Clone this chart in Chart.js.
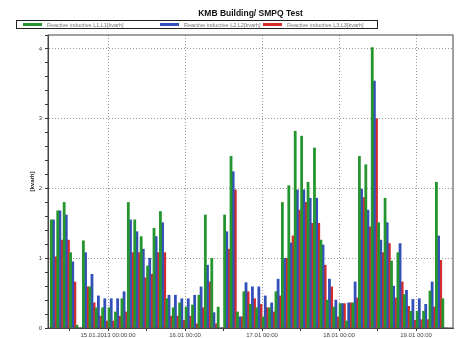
<!DOCTYPE html>
<html><head><meta charset="utf-8">
<script src="https://cdn.jsdelivr.net/npm/chart.js@4/dist/chart.umd.min.js"></script>
<style>
html,body{margin:0;padding:0;background:#fff;}
#wrap{position:relative;width:461px;height:338px;}
#title{position:absolute;left:48px;width:405px;top:8px;text-align:center;font:bold 8.5px "Liberation Sans",Arial,sans-serif;color:#111;line-height:10px;}
#legend{position:absolute;left:16px;top:20px;width:360px;height:7px;border:1px solid #222;display:flex;align-items:center;font:5.5px "Liberation Sans",Arial,sans-serif;color:#777;white-space:nowrap;overflow:hidden;}
.item{display:flex;align-items:center;flex:none;}
.sw{width:19px;height:3px;margin:0 5px 0 6px;flex:none;}
</style></head><body>
<div id="wrap"><canvas id="c" width="461" height="338"></canvas><div id="title"></div><div id="legend"></div></div>
<script>
const chartTitle = "KMB Building/ SMPQ Test";
const yAxisTitle = "[kvarh]";
const seriesNames = ["Reactive inductive L1,L1[kvarh]", "Reactive inductive L2,L2[kvarh]", "Reactive inductive L3,L3[kvarh]"];
const seriesColors = ["#25962f", "#3350b8", "#d42b2b"];
const intervalHours = 2;
const xTickLabels = ["15.01.2013 00:00:00", "16.01 00:00", "17.01 00:00", "18.01 00:00", "19.01 00:00"];
const yTickLabels = ["0", "1", "2", "3", "4"];

const times = [
  "14.01 06:00","14.01 08:00","14.01 10:00","14.01 12:00","14.01 14:00","14.01 16:00","14.01 18:00","14.01 20:00","14.01 22:00",
  "15.01 00:00","15.01 02:00","15.01 04:00","15.01 06:00","15.01 08:00","15.01 10:00","15.01 12:00","15.01 14:00","15.01 16:00","15.01 18:00","15.01 20:00","15.01 22:00",
  "16.01 00:00","16.01 02:00","16.01 04:00","16.01 06:00","16.01 08:00","16.01 10:00","16.01 12:00","16.01 14:00","16.01 16:00","16.01 18:00","16.01 20:00","16.01 22:00",
  "17.01 00:00","17.01 02:00","17.01 04:00","17.01 06:00","17.01 08:00","17.01 10:00","17.01 12:00","17.01 14:00","17.01 16:00","17.01 18:00","17.01 20:00","17.01 22:00",
  "18.01 00:00","18.01 02:00","18.01 04:00","18.01 06:00","18.01 08:00","18.01 10:00","18.01 12:00","18.01 14:00","18.01 16:00","18.01 18:00","18.01 20:00","18.01 22:00",
  "19.01 00:00","19.01 02:00","19.01 04:00","19.01 06:00","19.01 08:00"
];
const l1 = [1.55,1.68,1.80,1.08,0.04,1.25,0.59,0.29,0.29,
  0.29,0.23,0.42,1.80,1.55,1.31,0.89,1.43,1.67,0.42,0.29,0.36,
  0.30,0.33,0.47,1.62,1.00,0.30,1.62,2.46,0.23,0.52,0.34,0.29,
  0.16,0.29,0.52,1.80,2.04,2.82,2.75,2.09,2.58,1.26,0.40,0.30,
  0.35,0.10,0.36,2.46,2.34,4.02,1.51,1.86,0.96,1.08,0.48,0.24,
  0.24,0.24,0.53,2.09,0.42];
const l2 = [1.55,1.68,1.62,0.95,0,1.08,0.77,0.46,0.42,
  0.42,0.42,0.52,1.55,1.38,1.13,1.00,1.31,1.51,0.47,0.47,0.42,
  0.42,0.47,0.59,0.90,0.22,0,1.38,2.24,0.16,0.65,0.59,0.59,
  0.46,0.36,0.70,1.00,1.22,1.98,1.98,1.86,1.86,1.19,0.70,0.40,
  0.35,0.36,0.66,1.99,1.69,3.54,1.26,1.51,0.60,1.21,0.54,0.41,
  0.42,0.34,0.66,1.32,0];
const l3 = [1.02,1.26,1.26,0.66,0,0.59,0.36,0.17,0.10,
  0.10,0.17,0.23,1.08,1.08,0.72,0.77,1.08,1.08,0.17,0.17,0.11,
  0.17,0.06,0.29,0.66,0.06,0,1.13,1.98,0.16,0.52,0.42,0.34,
  0.29,0.23,0.46,1.00,1.32,1.69,1.80,1.50,1.50,0.90,0.59,0.16,
  0.35,0.36,0.43,1.87,1.45,3.00,1.08,1.21,0.43,0.66,0.31,0.11,
  0.12,0.12,0.30,0.97,0];
const seriesValues = [l1, l2, l3];

// hours since 14.01 00:00, taken at the middle of each 2-hour interval
const baseDay = parseInt(times[0].slice(0, 2), 10);
function hourOf(t) {
  const d = parseInt(t.slice(0, 2), 10), h = parseInt(t.slice(6, 8), 10), m = parseInt(t.slice(9, 11), 10);
  return (d - baseDay) * 24 + h + m / 60;
}
const isInt = v => Math.abs(v - Math.round(v)) < 1e-6;
const isDay = v => isInt(v / 24);

document.getElementById('title').textContent = chartTitle;
const lg = document.getElementById('legend');
const itemWidths = [137, 103, 118];
seriesNames.forEach((n, i) => {
  const it = document.createElement('div'); it.className = 'item'; it.style.width = itemWidths[i] + 'px';
  const sw = document.createElement('span'); sw.className = 'sw'; sw.style.background = seriesColors[i];
  const tx = document.createElement('span'); tx.textContent = n;
  it.appendChild(sw); it.appendChild(tx); lg.appendChild(it);
});

const frame = {
  id: 'frame',
  afterDraw(chart) {
    const {ctx, chartArea: a} = chart;
    ctx.save(); ctx.strokeStyle = '#444'; ctx.lineWidth = 1;
    ctx.strokeRect(a.left, a.top, a.right - a.left, a.bottom - a.top);
    ctx.restore();
  }
};

new Chart(document.getElementById('c'), {
  type: 'bar',
  data: {
    datasets: seriesValues.map((vals, i) => ({
      label: seriesNames[i],
      data: times.map((t, k) => ({x: hourOf(t) + intervalHours / 2, y: vals[k]})),
      backgroundColor: seriesColors[i],
      borderWidth: 0,
      barPercentage: 1,
      categoryPercentage: 1
    }))
  },
  options: {
    responsive: false,
    animation: false,
    layout: {padding: {top: 35, right: 8, left: 0, bottom: 0}},
    plugins: {legend: {display: false}, title: {display: false}, tooltip: {enabled: false}},
    scales: {
      x: {
        type: 'linear', min: 5.3, max: 131.5, offset: false,
        grid: {offset: false, color: c => (c.tick && isDay(c.tick.value)) ? '#9a9a9a' : 'rgba(0,0,0,0)', tickColor: '#333', tickLength: 3},
        border: {color: '#444', dash: [1, 2]},
        ticks: {stepSize: 12, includeBounds: false, autoSkip: false, maxRotation: 0, padding: 1,
          font: {size: 6, family: '"Liberation Sans", Arial, sans-serif'}, color: '#444',
          callback: v => isDay(v) ? (xTickLabels[Math.round(v / 24) - 1] || '') : ''},
        afterFit: s => { s.height = 10; }
      },
      y: {
        min: 0, max: 4.2,
        grid: {color: c => (c.tick && isInt(c.tick.value)) ? '#9a9a9a' : 'rgba(0,0,0,0)', tickColor: '#333', tickLength: 3},
        border: {color: '#444', dash: [1, 2]},
        ticks: {stepSize: 0.2, autoSkip: false, padding: 3,
          font: {size: 6, family: '"Liberation Sans", Arial, sans-serif'}, color: '#444',
          callback: v => isInt(v) ? (yTickLabels[Math.round(v)] || '') : ''},
        title: {display: true, text: yAxisTitle, font: {size: 6, weight: 'bold', family: '"Liberation Sans", Arial, sans-serif'}, color: '#222', padding: {top: 29, bottom: 0}},
        afterFit: s => { s.width = 48; }
      }
    }
  },
  plugins: [frame]
});
</script>
</body></html>
